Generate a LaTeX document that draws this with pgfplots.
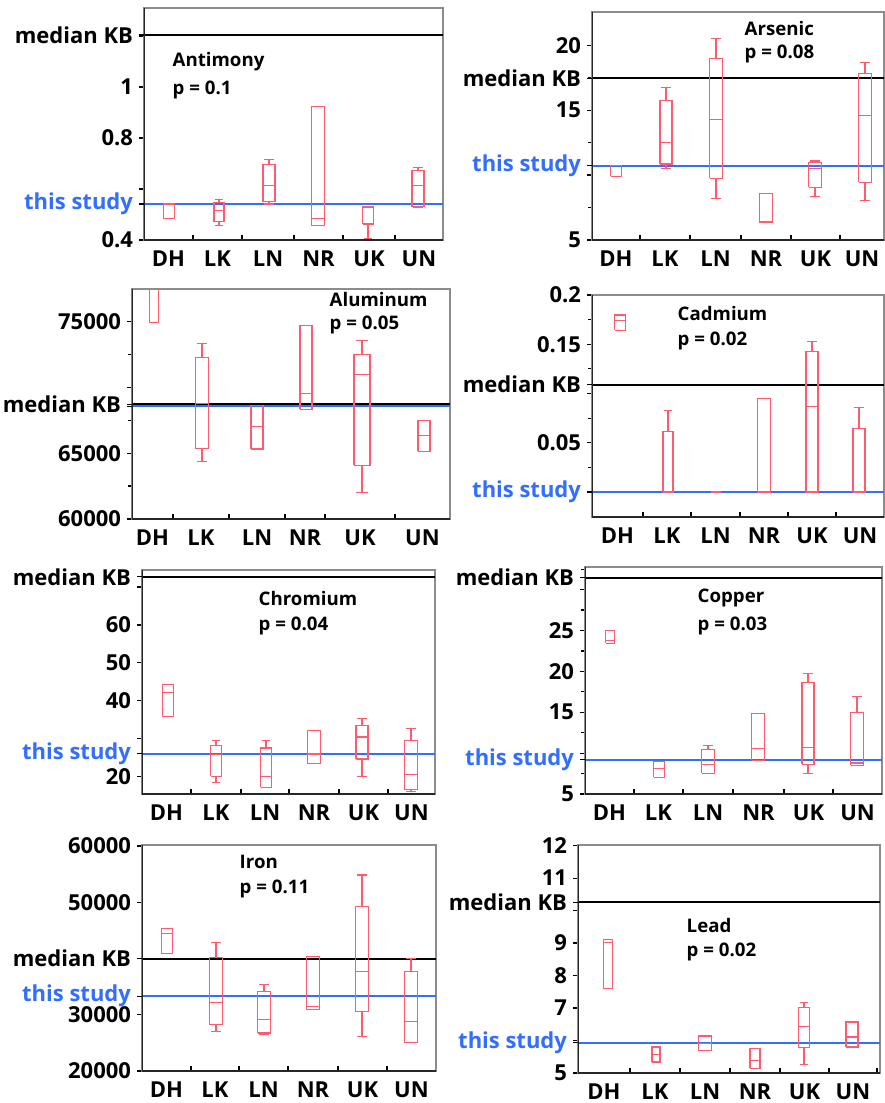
\documentclass[border=0pt]{standalone}
\usepackage{fontspec}
\setmainfont{Open Sans}
\usepackage{pgfplots}
\pgfplotsset{compat=1.18}
\definecolor{boxc}{RGB}{255,90,110}
\definecolor{studyblue}{RGB}{50,110,255}
\newcommand{\tlf}{\fontsize{16.5}{18}\selectfont\bfseries}
\newcommand{\nmf}{\fontsize{14}{16}\selectfont\bfseries}
% box: #1 position, #2 lower whisker, #3 lower quartile, #4 median, #5 upper quartile, #6 upper whisker, #7 box width
\newcommand{\bx}[7]{%
  \pgfmathsetmacro{\bxL}{#1-#7/2}\pgfmathsetmacro{\bxR}{#1+#7/2}%
  \pgfmathsetmacro{\bxCL}{#1-#7*0.4}\pgfmathsetmacro{\bxCR}{#1+#7*0.4}%
  \edef\bxtmp{%
    \noexpand\addplot[boxc, line width=0.85pt] coordinates {(\bxL,#3) (\bxR,#3) (\bxR,#5) (\bxL,#5) (\bxL,#3)};
    \noexpand\addplot[boxc, line width=0.85pt] coordinates {(\bxL,#4) (\bxR,#4)};
    \noexpand\addplot[boxc, line width=0.85pt] coordinates {(#1,#5) (#1,#6)};
    \noexpand\addplot[boxc, line width=0.85pt] coordinates {(\bxCL,#6) (\bxCR,#6)};
    \noexpand\addplot[boxc, line width=0.85pt] coordinates {(#1,#3) (#1,#2)};
    \noexpand\addplot[boxc, line width=0.85pt] coordinates {(\bxCL,#2) (\bxCR,#2)};
  }\bxtmp}
\pgfplotsset{
  panel/.style={
    scale only axis, anchor=north west, xmin=0,
    axis line style={draw=black!45, line width=1pt},
    tick pos=left, tick align=outside,
    major tick length=3.75pt, minor tick length=3pt,
    tick style={black, line width=0.9pt},
    major x tick style={black, line width=0.9pt, yshift=3.75pt},
    tick label style={font=\tlf},
    x tick label as interval,
    xticklabels={DH,LK,LN,NR,UK,UN},
    xticklabel style={yshift=-1pt},
    yticklabel style={xshift=-1pt},
    scaled y ticks=false,
    /pgf/number format/1000 sep={},
  },
  kb/.style={black, line width=1.5pt},
  st/.style={studyblue, line width=1.6pt},
}
\newcommand{\darkframe}{\draw[black!85, line width=1.1pt] (rel axis cs:0,1) -- (rel axis cs:0,0) -- (rel axis cs:1,0);}
\begin{document}
\begin{tikzpicture}
\useasboundingbox (0pt,0pt) rectangle (663.75pt,-827.25pt);
% ---------- Antimony
\begin{axis}[panel, at={(108pt,-6pt)}, width=224.25pt, height=174pt,
  xmax=299, ymin=0.4, ymax=1.31,
  xtick={0,49,98,150,199,251,299},
  ytick={0.4,0.6,0.8,1.0,1.2}, yticklabels={0.4,,0.8,1,},
  extra y ticks={1.204,0.541}, extra y tick labels={median KB,\textcolor{studyblue}{this study}}]
\addplot[kb] coordinates {(0,1.204) (299,1.204)};
\addplot[st] coordinates {(0,0.541) (299,0.541)};
\bx{25}{0.485}{0.485}{0.54}{0.541}{0.541}{11}
\bx{75}{0.456}{0.472}{0.517}{0.547}{0.560}{10}
\bx{125}{0.541}{0.55}{0.615}{0.697}{0.717}{12}
\bx{174}{0.456}{0.456}{0.485}{0.924}{0.924}{13}
\bx{224}{0.407}{0.463}{0.528}{0.530}{0.530}{11}
\bx{274}{0.528}{0.530}{0.615}{0.674}{0.683}{12}
\node[anchor=west, font=\nmf] at (axis cs:24,1.098) {Antimony};
\node[anchor=west, font=\nmf] at (axis cs:24,0.99) {p = 0.1};
\darkframe
\end{axis}
% ---------- Arsenic
\begin{axis}[panel, at={(444pt,-9pt)}, width=219pt, height=171pt,
  xmax=292, ymin=5, ymax=22.56,
  xtick={0,48,98,149,199,248,292},
  ytick={5,10,15,20}, yticklabels={5,,15,20}, minor ytick={7.5,12.5,17.5},
  extra y ticks={17.44,10.72}, extra y tick labels={median KB,\textcolor{studyblue}{this study}}]
\addplot[kb] coordinates {(0,17.44) (292,17.44)};
\addplot[st] coordinates {(0,10.72) (292,10.72)};
\bx{24}{9.92}{9.92}{9.92}{10.72}{10.72}{11}
\bx{74}{10.51}{10.85}{12.49}{15.77}{16.74}{12}
\bx{124}{8.21}{9.74}{14.31}{18.97}{20.51}{13}
\bx{174}{6.33}{6.33}{6.45}{8.59}{8.59}{13}
\bx{223}{8.38}{9.05}{10.51}{10.97}{11.08}{13}
\bx{273}{8.03}{9.44}{14.56}{17.82}{18.67}{13}
\node[anchor=west, font=\nmf] at (axis cs:148,21.28) {Arsenic};
\node[anchor=west, font=\nmf] at (axis cs:148,19.36) {p = 0.08};
\darkframe
\end{axis}
% ---------- Aluminum
\begin{axis}[panel, at={(99pt,-216.75pt)}, width=238.5pt, height=172.5pt,
  xmax=318, ymin=60000, ymax=77470,
  xtick={0,41,97,153,193,263,318},
  ytick={60000,65000,70000,75000}, yticklabels={60000,65000,,75000}, minor ytick={62500,67500,72500},
  extra y ticks={68720,68560}, extra y tick labels={median KB,{}}]
\addplot[st] coordinates {(0,68560) (318,68560)};
\addplot[kb] coordinates {(0,68720) (318,68720)};
\bx{22}{74930}{74930}{78000}{78000}{78000}{9}
\bx{70}{64377}{65338}{68804}{72296}{73358}{13}
\bx{125}{65313}{65313}{67033}{68602}{68602}{12}
\bx{174}{68349}{68349}{69563}{74674}{74674}{12}
\bx{230}{62024}{64073}{70955}{72473}{73536}{16}
\bx{292}{65136}{65136}{66325}{67489}{67489}{12}
\node[anchor=west, font=\nmf] at (axis cs:193,76647) {Aluminum};
\node[anchor=west, font=\nmf] at (axis cs:193,74750) {p = 0.05};
\darkframe
\end{axis}
% ---------- Cadmium
\begin{axis}[panel, at={(444pt,-221.25pt)}, width=219pt, height=166.5pt,
  xmax=292, ymin=-0.0254, ymax=0.2,
  xtick={0,51,99,148,196,244,292},
  ytick={0,0.05,0.1,0.15,0.2}, yticklabels={,0.05,,0.15,0.2}, minor ytick={0.025,0.075,0.125,0.175},
  extra y ticks={0.109,0}, extra y tick labels={median KB,\textcolor{studyblue}{this study}}]
\addplot[kb] coordinates {(0,0.109) (292,0.109)};
\addplot[st] coordinates {(0,0) (292,0)};
\bx{28}{0.1644}{0.1644}{0.174}{0.1797}{0.1797}{11}
\bx{76}{0}{0}{0}{0.0617}{0.083}{10}
\bx{124}{0}{0}{0}{0}{0}{10}
\bx{172}{0}{0}{0}{0.0949}{0.0949}{13}
\bx{220}{0}{0}{0.0871}{0.1424}{0.1525}{12}
\bx{267}{0}{0}{0}{0.0644}{0.0854}{12}
\node[anchor=west, font=\nmf] at (axis cs:81,0.1814) {Cadmium};
\node[anchor=west, font=\nmf] at (axis cs:81,0.1532) {p = 0.02};
\darkframe
\end{axis}
% ---------- Chromium
\begin{axis}[panel, at={(106.5pt,-427.5pt)}, width=219.75pt, height=168pt,
  xmax=293, ymin=15.34, ymax=74.5,
  xtick={0,49,99,147,197,246,293},
  ytick={20,30,40,50,60,70}, yticklabels={20,,40,50,60,},
  extra y ticks={72.7,26.0}, extra y tick labels={median KB,\textcolor{studyblue}{this study}}]
\addplot[kb] coordinates {(0,72.7) (293,72.7)};
\addplot[st] coordinates {(0,26.0) (293,26.0)};
\bx{26}{35.7}{35.7}{42.2}{44.2}{44.2}{11}
\bx{74}{18.4}{20.0}{25.7}{28.2}{29.4}{11}
\bx{124}{17.1}{17.1}{20.0}{27.5}{29.5}{11}
\bx{172}{23.3}{23.3}{25.9}{32.0}{32.0}{13}
\bx{220}{20.0}{24.6}{30.4}{33.5}{35.2}{12}
\bx{269}{16.0}{16.5}{20.4}{29.5}{32.6}{13}
\node[anchor=west, font=\nmf] at (axis cs:112,66.9) {Chromium};
\node[anchor=west, font=\nmf] at (axis cs:112,59.6) {p = 0.04};
\darkframe
\end{axis}
% ---------- Copper
\begin{axis}[panel, at={(438.75pt,-425.25pt)}, width=222.75pt, height=170.25pt,
  xmax=297, ymin=5, ymax=32.76,
  xtick={0,49,98,148,199,248,297},
  ytick={5,10,15,20,25,30}, yticklabels={5,,15,20,25,}, minor ytick={7.5,12.5,17.5,22.5,27.5,32.5},
  extra y ticks={31.46,9.19}, extra y tick labels={median KB,\textcolor{studyblue}{this study}}]
\addplot[kb] coordinates {(0,31.46) (297,31.46)};
\addplot[st] coordinates {(0,9.19) (297,9.19)};
\bx{25}{23.41}{23.41}{23.82}{24.96}{24.96}{9}
\bx{74}{7.03}{7.03}{8.09}{8.98}{8.98}{11}
\bx{123}{7.56}{7.56}{8.58}{10.41}{10.93}{13}
\bx{173}{9.1}{9.1}{10.53}{14.8}{14.8}{13}
\bx{223}{7.56}{8.66}{10.73}{18.62}{19.76}{12}
\bx{272}{8.5}{8.5}{8.8}{14.96}{16.91}{13}
\node[anchor=west, font=\nmf] at (axis cs:108,29.0) {Copper};
\node[anchor=west, font=\nmf] at (axis cs:108,25.57) {p = 0.03};
\darkframe
\end{axis}
% ---------- Iron
\begin{axis}[panel, at={(106.5pt,-633.75pt)}, width=220.5pt, height=169.5pt,
  xmax=294, ymin=20000, ymax=60180,
  xtick={0,49,97,146,196,245,294},
  ytick={20000,30000,40000,50000,60000}, yticklabels={20000,30000,,50000,60000},
  extra y ticks={40000,33300}, extra y tick labels={median KB,\textcolor{studyblue}{this study}}]
\addplot[kb] coordinates {(0,40000) (294,40000)};
\addplot[st] coordinates {(0,33300) (294,33300)};
\bx{25}{40890}{40890}{44451}{45341}{45341}{11}
\bx{74}{27062}{28249}{32107}{40178}{42789}{13}
\bx{122}{26469}{26766}{29199}{34184}{35371}{13}
\bx{171}{30920}{30920}{31513}{40297}{40297}{13}
\bx{220}{26172}{30504}{37745}{49318}{54837}{13}
\bx{269}{25045}{25045}{28843}{37626}{40000}{13}
\node[anchor=west, font=\nmf] at (axis cs:93,57211) {Iron};
\node[anchor=west, font=\nmf] at (axis cs:93,52285) {p = 0.11};
\darkframe
\end{axis}
% ---------- Lead
\begin{axis}[panel, at={(433.5pt,-633.75pt)}, width=226.5pt, height=171pt,
  xmax=302, ymin=5, ymax=12.02,
  xtick={0,52,102,152,202,251,299},
  ytick={5,6,7,8,9,10,11,12}, yticklabels={5,,7,8,9,,11,12},
  extra y ticks={10.26,5.93}, extra y tick labels={median KB,\textcolor{studyblue}{this study}}]
\addplot[kb] coordinates {(0,10.26) (302,10.26)};
\addplot[st] coordinates {(0,5.93) (302,5.93)};
\bx{30}{7.59}{7.59}{9.03}{9.10}{9.10}{9}
\bx{78}{5.34}{5.34}{5.57}{5.8}{5.8}{8}
\bx{127}{5.68}{5.68}{5.9}{6.14}{6.14}{13}
\bx{177}{5.15}{5.15}{5.39}{5.75}{5.75}{10}
\bx{226}{5.27}{5.78}{6.44}{7.03}{7.16}{11}
\bx{274}{5.8}{5.8}{6.11}{6.57}{6.57}{12}
\node[anchor=west, font=\nmf] at (axis cs:104,9.54) {Lead};
\node[anchor=west, font=\nmf] at (axis cs:104,8.72) {p = 0.02};
\darkframe
\end{axis}
\end{tikzpicture}
\end{document}
